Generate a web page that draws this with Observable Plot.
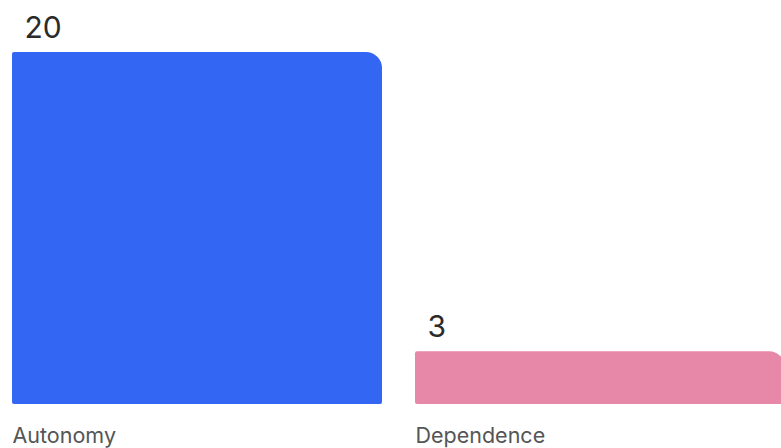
<!DOCTYPE html>
<html>
<head>
<meta charset="utf-8">
<script src="https://cdn.jsdelivr.net/npm/d3@7"></script>
<script src="https://cdn.jsdelivr.net/npm/@observablehq/plot@0.6"></script>
<style>
  html, body { margin: 0; padding: 0; background: #fff; }
  #chart svg { display: block; }
</style>
</head>
<body>
<div id="chart"></div>
<script>
const categories = ["Autonomy", "Dependence"];
const values = [20, 3];
const colors = ["#3366F2", "#E888A9"];

const data = categories.map((c, i) => ({category: c, value: values[i], color: colors[i]}));

const W = 781, H = 448;
const mLeft = 12, mRight = -4;
const padInner = 0.0819;
const span = W - mLeft - mRight;
const step = span / (2 - padInner);
const bw = step * (1 - padInner);

const chart = Plot.plot({
  width: W,
  height: H,
  marginTop: 52,
  marginBottom: 44,
  marginLeft: mLeft,
  marginRight: mRight,
  style: {fontFamily: "Inter, 'Noto Sans', sans-serif", background: "#fff", overflow: "hidden"},
  x: {domain: categories, paddingInner: padInner, paddingOuter: 0, axis: null},
  y: {domain: [0, 20], axis: null},
  marks: [
    Plot.barY(data, {
      x: "category", y: "value", fill: "color",
      rx1y1: 2, rx1y2: 2, rx2y2: 2, rx2y1: 16
    }),
    Plot.text(data, {
      x: "category", y: "value", text: d => String(d.value),
      textAnchor: "start", dx: -bw / 2 + 12, dy: -15, lineAnchor: "bottom",
      fontSize: 30, fill: "#2b2b2b"
    }),
    Plot.axisX({
      tickSize: 0, tickPadding: 23, textAnchor: "start", dx: -bw / 2,
      fontSize: 21.5, fill: "#555", label: null
    })
  ]
});
document.getElementById("chart").appendChild(chart);
</script>
</body>
</html>
